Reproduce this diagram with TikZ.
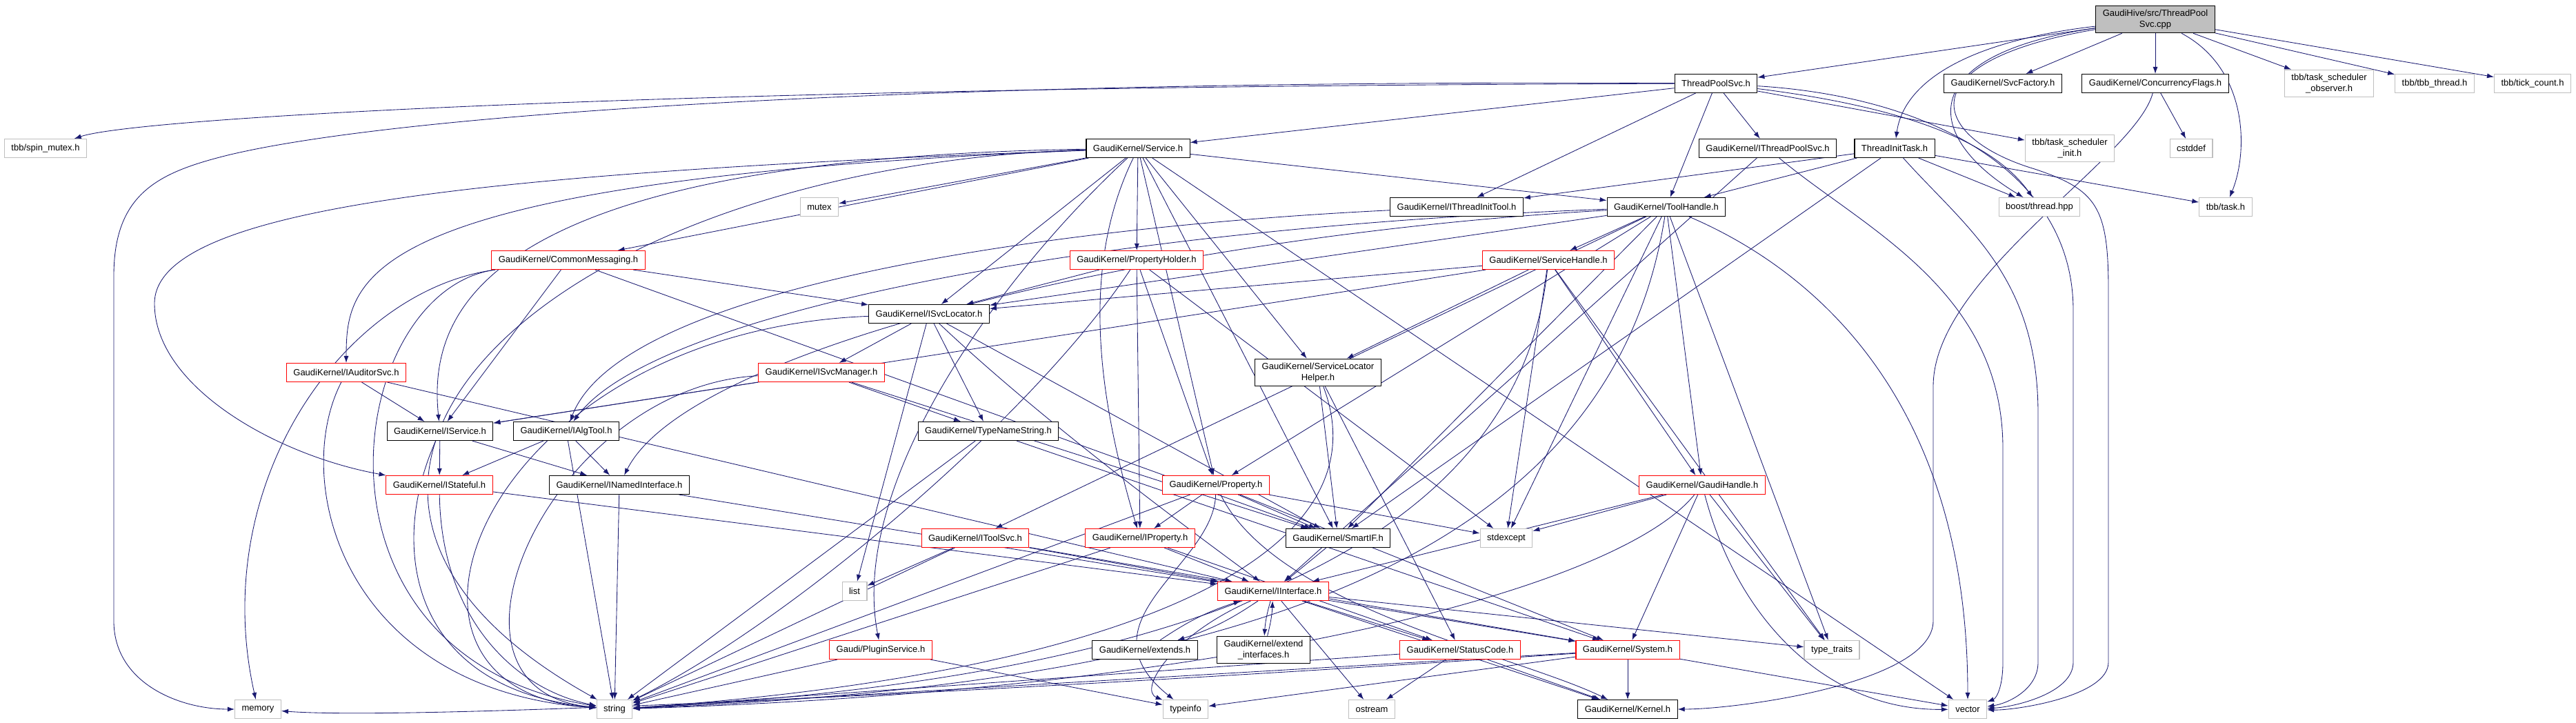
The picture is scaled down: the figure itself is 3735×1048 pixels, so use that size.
\documentclass[tikz,border=0pt]{standalone}
\usepackage{fontspec}
\setmainfont{Liberation Sans}
\usepackage{xcolor}
\usetikzlibrary{arrows.meta,positioning}
\definecolor{edgeblue}{HTML}{191970}
\definecolor{graybox}{HTML}{BFBFBF}
\pgfdeclarelayer{edges}
\pgfsetlayers{edges,main}
\tikzset{%
	hdr/.style      = {draw, fill=white, rectangle, line width=1.1pt, minimum height=27pt, inner xsep=10pt, inner ysep=6pt, align=center, font=\fontsize{13}{15.5}\selectfont},
	dochdr/.style   = {hdr, draw=black},
	redhdr/.style   = {hdr, draw=red},
	syshdr/.style   = {hdr, draw=graybox},
	mainhdr/.style  = {hdr, draw=black, fill=graybox},
	incl/.style     = {draw=edgeblue, line width=0.85pt, -{Latex[length=10pt,width=7pt]}},
}
\begin{document}
\begin{tikzpicture}[x=1pt,y=-1pt]
	\useasboundingbox (0,0) rectangle (3735,1048);
	% files, one row after the other
	\node[mainhdr] (cpp) at (3125,28) {GaudiHive/src/ThreadPool\\Svc.cpp};
	\node[dochdr] (tpsvch) at (2488,121) {ThreadPoolSvc.h};
	\node[dochdr] (svcfac) at (2904,121) {GaudiKernel/SvcFactory.h};
	\node[dochdr] (concfl) at (3125,121) {GaudiKernel/ConcurrencyFlags.h};
	\node[syshdr] (tsobs) at (3377,121) {tbb/task\_scheduler\\\_observer.h};
	\node[syshdr] (tbbthr) at (3530,121) {tbb/tbb\_thread.h};
	\node[syshdr] (tick) at (3672,121) {tbb/tick\_count.h};
	\node[syshdr] (spinmtx) at (66,215) {tbb/spin\_mutex.h};
	\node[dochdr] (service) at (1650,215) {GaudiKernel/Service.h};
	\node[dochdr] (ithrpool) at (2563,215) {GaudiKernel/IThreadPoolSvc.h};
	\node[dochdr] (thrtask) at (2747,215) {ThreadInitTask.h};
	\node[syshdr] (tsinit) at (3001,215) {tbb/task\_scheduler\\\_init.h};
	\node[syshdr] (cstddef) at (3177,215) {cstddef};
	\node[syshdr] (mutex) at (1188,300) {mutex};
	\node[dochdr] (ithrtool) at (2112,300) {GaudiKernel/IThreadInitTool.h};
	\node[dochdr] (toolh) at (2416,300) {GaudiKernel/ToolHandle.h};
	\node[syshdr] (boost) at (2957,300) {boost/thread.hpp};
	\node[syshdr] (tbbtask) at (3227,300) {tbb/task.h};
	\node[redhdr] (commsg) at (824,377) {GaudiKernel/CommonMessaging.h};
	\node[redhdr] (propholder) at (1648,377) {GaudiKernel/PropertyHolder.h};
	\node[redhdr] (svchandle) at (2245,377) {GaudiKernel/ServiceHandle.h};
	\node[dochdr] (isvcloc) at (1347,455) {GaudiKernel/ISvcLocator.h};
	\node[dochdr] (slhelper) at (1911,540) {GaudiKernel/ServiceLocator\\Helper.h};
	\node[redhdr] (iauditor) at (502,540) {GaudiKernel/IAuditorSvc.h};
	\node[redhdr] (isvcmgr) at (1191,540) {GaudiKernel/ISvcManager.h};
	\node[dochdr] (iservice) at (638,625) {GaudiKernel/IService.h};
	\node[dochdr] (ialgtool) at (821,625) {GaudiKernel/IAlgTool.h};
	\node[dochdr] (typename) at (1433,625) {GaudiKernel/TypeNameString.h};
	\node[redhdr] (gaudihandle) at (2468,703) {GaudiKernel/GaudiHandle.h};
	\node[redhdr] (istateful) at (637,703) {GaudiKernel/IStateful.h};
	\node[dochdr] (inamed) at (898,703) {GaudiKernel/INamedInterface.h};
	\node[redhdr] (property) at (1763,703) {GaudiKernel/Property.h};
	\node[redhdr] (itoolsvc) at (1414,780) {GaudiKernel/IToolSvc.h};
	\node[redhdr] (iproperty) at (1653,780) {GaudiKernel/IProperty.h};
	\node[dochdr] (smartif) at (1940,780) {GaudiKernel/SmartIF.h};
	\node[syshdr] (stdexcept) at (2184,780) {stdexcept};
	\node[syshdr] (list) at (1239,857) {list};
	\node[redhdr] (iinterface) at (1846,857) {GaudiKernel/IInterface.h};
	\node[redhdr] (plugin) at (1277,942) {Gaudi/PluginService.h};
	\node[dochdr] (extends) at (1660,942) {GaudiKernel/extends.h};
	\node[dochdr] (extendif) at (1832,942) {GaudiKernel/extend\\\_interfaces.h};
	\node[redhdr] (statuscode) at (2117,942) {GaudiKernel/StatusCode.h};
	\node[redhdr] (system) at (2360,942) {GaudiKernel/System.h};
	\node[syshdr] (typetraits) at (2656,942) {type\_traits};
	\node[syshdr] (memory) at (374,1028) {memory};
	\node[syshdr] (string) at (891,1028) {string};
	\node[syshdr] (typeinfo) at (1719,1028) {typeinfo};
	\node[syshdr] (ostream) at (1989,1028) {ostream};
	\node[dochdr] (kernel) at (2360,1028) {GaudiKernel/Kernel.h};
	\node[syshdr] (vector) at (2853,1028) {vector};

	\begin{pgfonlayer}{edges}
	% ThreadPoolSvc.cpp
	\draw[incl] (cpp) -- (tpsvch);
	\draw[incl] (cpp) .. controls (2850,60) and (2760,120) .. (thrtask);
	\draw[incl] (cpp) .. controls (2770,80) and (2790,200) .. (boost);
	\draw[incl] (cpp) .. controls (2760,90) and (2800,200) .. (2950,245) .. controls (3040,275) and (3057,300) .. (3057,420) -- (3057,960) .. controls (3057,1010) and (2920,1030) .. (vector);
	\draw[incl] (cpp) -- (svcfac);
	\draw[incl] (cpp) -- (concfl);
	\draw[incl] (cpp) -- (tsobs);
	\draw[incl] (cpp) .. controls (3260,100) and (3260,220) .. (tbbtask);
	\draw[incl] (cpp) -- (tbbthr);
	\draw[incl] (cpp) -- (tick);
	% ThreadPoolSvc.h
	\draw[incl] (tpsvch) .. controls (1000,125) and (200,170) .. (spinmtx);
	\draw[incl] (tpsvch) .. controls (1400,115) and (600,160) .. (330,225) .. controls (230,250) and (165,280) .. (165,400) -- (165,900) .. controls (165,990) and (260,1028) .. (memory);
	\draw[incl] (tpsvch) -- (service);
	\draw[incl] (tpsvch) -- (ithrtool);
	\draw[incl] (tpsvch) -- (toolh);
	\draw[incl] (tpsvch) -- (ithrpool);
	\draw[incl] (tpsvch) -- (tsinit);
	\draw[incl] (tpsvch) .. controls (2800,160) and (2900,220) .. (boost);
	\draw[incl] (tpsvch) .. controls (2800,140) and (3006,250) .. (3006,450) -- (3006,960) .. controls (3006,1005) and (2920,1025) .. (vector);
	% ConcurrencyFlags.h
	\draw[incl] (concfl) -- (cstddef);
	\draw[incl] (concfl) .. controls (3096,230) and (2803,400) .. (2803,560) -- (2803,900) .. controls (2803,990) and (2520,1028) .. (kernel);
	% ThreadInitTask.h
	\draw[incl] (thrtask) -- (ithrtool);
	\draw[incl] (thrtask) -- (toolh);
	\draw[incl] (thrtask) -- (smartif);
	\draw[incl] (thrtask) -- (boost);
	\draw[incl] (thrtask) -- (tbbtask);
	\draw[incl] (thrtask) .. controls (2850,330) and (2955,400) .. (2955,600) -- (2955,960) .. controls (2955,1000) and (2910,1020) .. (vector);
	% IThreadPoolSvc.h
	\draw[incl] (ithrpool) -- (iinterface);
	\draw[incl] (ithrpool) .. controls (2700,330) and (2904,420) .. (2904,650) -- (2904,960) .. controls (2904,995) and (2895,1012) .. (vector);
	% Service.h
	\draw[incl] (service) -- (commsg);
	\draw[incl] (service) .. controls (520,260) and (502,400) .. (iauditor);
	\draw[incl] (service) .. controls (700,230) and (620,450) .. (iservice);
	\draw[incl] (service) .. controls (700,250) and (224,300) .. (224,440) .. controls (224,560) and (400,660) .. (istateful);
	\draw[incl] (service) -- (isvcloc);
	\draw[incl] (service) -- (slhelper);
	\draw[incl] (service) -- (propholder);
	\draw[incl] (service) -- (property);
	\draw[incl] (service) .. controls (1560,400) and (1600,600) .. (iproperty);
	\draw[incl] (service) -- (smartif);
	\draw[incl] (service) -- (toolh);
	\draw[incl] (service) .. controls (1450,400) and (1230,700) .. (plugin);
	\draw[incl] (service) -- (mutex);
	\draw[incl] (service) -- (vector);
	\draw[incl] (service) .. controls (800,240) and (300,700) .. (string);
	% IThreadInitTool.h
	\draw[incl] (ithrtool) .. controls (1500,330) and (900,420) .. (ialgtool);
	% ToolHandle.h
	\draw[incl] (toolh) -- (svchandle);
	\draw[incl] (toolh) -- (gaudihandle);
	\draw[incl] (toolh) .. controls (1600,330) and (950,450) .. (ialgtool);
	\draw[incl] (toolh) .. controls (1700,340) and (1000,500) .. (inamed);
	\draw[incl] (toolh) -- (itoolsvc);
	\draw[incl] (toolh) -- (isvcloc);
	\draw[incl] (toolh) -- (stdexcept);
	\draw[incl] (toolh) -- (typetraits);
	\draw[incl] (toolh) -- (smartif);
	\draw[incl] (toolh) -- (property);
	\draw[incl] (toolh) .. controls (2330,850) and (1700,995) .. (string);
	\draw[incl] (toolh) .. controls (2650,400) and (2853,600) .. (vector);
	% CommonMessaging.h
	\draw[incl] (commsg) -- (iservice);
	\draw[incl] (commsg) -- (isvcloc);
	\draw[incl] (commsg) -- (smartif);
	\draw[incl] (commsg) .. controls (500,420) and (300,700) .. (memory);
	\draw[incl] (commsg) .. controls (500,420) and (420,950) .. (string);
	% PropertyHolder.h
	\draw[incl] (propholder) -- (isvcloc);
	\draw[incl] (propholder) -- (iproperty);
	\draw[incl] (propholder) -- (property);
	\draw[incl] (propholder) -- (stdexcept);
	\draw[incl] (propholder) .. controls (1500,600) and (1150,900) .. (string);
	% ServiceHandle.h
	\draw[incl] (svchandle) -- (gaudihandle);
	\draw[incl] (svchandle) -- (isvcloc);
	\draw[incl] (svchandle) -- (slhelper);
	\draw[incl] (svchandle) -- (iservice);
	\draw[incl] (svchandle) -- (stdexcept);
	\draw[incl] (svchandle) -- (typetraits);
	\draw[incl] (svchandle) .. controls (2200,800) and (1700,985) .. (string);
	% ISvcLocator.h
	\draw[incl] (isvcloc) -- (isvcmgr);
	\draw[incl] (isvcloc) -- (list);
	\draw[incl] (isvcloc) -- (typename);
	\draw[incl] (isvcloc) .. controls (1500,600) and (1700,750) .. (iinterface);
	\draw[incl] (isvcloc) -- (smartif);
	\draw[incl] (isvcloc) .. controls (700,480) and (500,1000) .. (string);
	% ServiceLocatorHelper.h
	\draw[incl] (slhelper) -- (smartif);
	\draw[incl] (slhelper) -- (statuscode);
	\draw[incl] (slhelper) .. controls (2010,800) and (1650,975) .. (string);
	% IAuditorSvc.h
	\draw[incl] (iauditor) -- (iservice);
	\draw[incl] (iauditor) .. controls (420,700) and (500,1000) .. (string);
	\draw[incl] (iauditor) -- (iinterface);
	% ISvcManager.h
	\draw[incl] (isvcmgr) -- (iservice);
	\draw[incl] (isvcmgr) -- (typename);
	\draw[incl] (isvcmgr) -- (smartif);
	\draw[incl] (isvcmgr) .. controls (800,560) and (600,1000) .. (string);
	% IService.h, IAlgTool.h
	\draw[incl] (iservice) -- (istateful);
	\draw[incl] (iservice) -- (inamed);
	\draw[incl] (iservice) .. controls (560,800) and (600,1000) .. (string);
	\draw[incl] (ialgtool) -- (istateful);
	\draw[incl] (ialgtool) -- (inamed);
	\draw[incl] (ialgtool) -- (string);
	% TypeNameString.h
	\draw[incl] (typename) -- (string);
	\draw[incl] (typename) -- (system);
	% GaudiHandle.h
	\draw[incl] (gaudihandle) -- (stdexcept);
	\draw[incl] (gaudihandle) -- (iinterface);
	\draw[incl] (gaudihandle) -- (system);
	\draw[incl] (gaudihandle) -- (typetraits);
	\draw[incl] (gaudihandle) .. controls (2520,900) and (2650,1030) .. (vector);
	\draw[incl] (gaudihandle) .. controls (2350,850) and (1800,1000) .. (string);
	% IStateful.h, INamedInterface.h
	\draw[incl] (istateful) -- (iinterface);
	\draw[incl] (istateful) .. controls (640,900) and (750,1000) .. (string);
	\draw[incl] (inamed) -- (iinterface);
	\draw[incl] (inamed) -- (string);
	% Property.h
	\draw[incl] (property) -- (iproperty);
	\draw[incl] (property) -- (smartif);
	\draw[incl] (property) -- (stdexcept);
	\draw[incl] (property) -- (string);
	\draw[incl] (property) .. controls (1760,820) and (1560,900) .. (typeinfo);
	\draw[incl] (property) -- (system);
	\draw[incl] (property) .. controls (1850,880) and (2200,950) .. (kernel);
	% IToolSvc.h, IProperty.h, SmartIF.h
	\draw[incl] (itoolsvc) -- (list);
	\draw[incl] (itoolsvc) -- (iinterface);
	\draw[incl] (itoolsvc) -- (string);
	\draw[incl] (itoolsvc) -- (system);
	\draw[incl] (iproperty) -- (iinterface);
	\draw[incl] (iproperty) -- (string);
	\draw[incl] (iproperty) -- (statuscode);
	\draw[incl] (smartif) -- (iinterface);
	% IInterface.h
	\draw[incl] (iinterface) to[bend left=8] (extends);
	\draw[incl] (extends) to[bend left=8] (iinterface);
	\draw[incl] (iinterface) to[bend right=6] (extendif);
	\draw[incl] (extendif) to[bend right=6] (iinterface);
	\draw[incl] (iinterface) -- (statuscode);
	\draw[incl] (iinterface) -- (system);
	\draw[incl] (iinterface) -- (kernel);
	\draw[incl] (iinterface) .. controls (1700,920) and (1650,1000) .. (typeinfo);
	\draw[incl] (iinterface) -- (ostream);
	\draw[incl] (iinterface) -- (typetraits);
	% PluginService.h
	\draw[incl] (plugin) -- (string);
	\draw[incl] (plugin) -- (typeinfo);
	% StatusCode.h
	\draw[incl] (statuscode) -- (ostream);
	\draw[incl] (statuscode) -- (kernel);
	\draw[incl] (statuscode) -- (string);
	% System.h
	\draw[incl] (system) -- (kernel);
	\draw[incl] (system) -- (vector);
	\draw[incl] (system) -- (string);
	\draw[incl] (system) -- (typeinfo);
	\draw[incl] (system) .. controls (1500,1000) and (600,1045) .. (memory);
	\end{pgfonlayer}
\end{tikzpicture}
\end{document}
